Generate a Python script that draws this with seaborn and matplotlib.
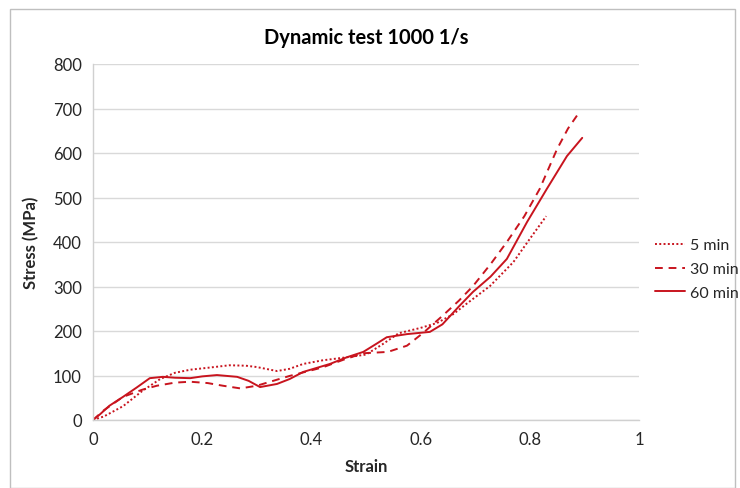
import matplotlib
matplotlib.use("Agg")
import matplotlib.pyplot as plt
import seaborn as sns
import pandas as pd
from matplotlib.patches import Rectangle

# Data
strain_5 = [0.0, 0.02, 0.055, 0.09, 0.123, 0.15, 0.178, 0.215, 0.25, 0.28, 0.30, 0.337, 0.36, 0.385, 0.42, 0.465,
            0.50, 0.53, 0.56, 0.60, 0.63, 0.66, 0.685, 0.727, 0.77, 0.80, 0.83]
stress_5 = [0, 8, 31, 65, 92, 106, 113, 118, 123, 122, 119, 110, 115, 126, 134, 141,
            147, 170, 195, 207, 218, 238, 262, 301, 355, 407, 458]

strain_30 = [0.0, 0.02, 0.055, 0.09, 0.117, 0.15, 0.178, 0.21, 0.238, 0.27, 0.30, 0.33, 0.36, 0.42, 0.46,
             0.495, 0.54, 0.575, 0.605, 0.64, 0.67, 0.696, 0.728, 0.758, 0.79, 0.818, 0.85, 0.87, 0.892]
stress_30 = [0, 22, 52, 68, 77, 84, 86, 83, 77, 71, 77, 88, 99, 118, 136,
             150, 153, 167, 196, 234, 268, 301, 350, 400, 458, 519, 609, 655, 694]

strain_60 = [0.0, 0.013, 0.03, 0.055, 0.08, 0.104, 0.128, 0.15, 0.178, 0.20, 0.227, 0.264, 0.285, 0.306, 0.337,
             0.36, 0.385, 0.434, 0.465, 0.495, 0.52, 0.538, 0.575, 0.617, 0.64, 0.67, 0.696, 0.728, 0.758,
             0.795, 0.831, 0.868, 0.896]
stress_60 = [0, 13, 32, 52, 73, 94, 97, 95, 94, 98, 101, 97, 88, 74, 81,
             92, 108, 126, 141, 153, 172, 186, 193, 198, 215, 255, 288, 322, 362,
             445, 519, 593, 634]

series_names = ["5 min", "30 min", "60 min"]

frames = []
for name, xs, ys in zip(series_names, [strain_5, strain_30, strain_60], [stress_5, stress_30, stress_60]):
    frames.append(pd.DataFrame({"Strain": xs, "Stress": ys, "Series": name}))
df = pd.concat(frames, ignore_index=True)

sns.set_style("white")
plt.rcParams["font.family"] = ["Lato", "DejaVu Sans"]

fig = plt.figure(figsize=(7.4, 4.89), dpi=100)
ax = fig.add_axes([93 / 740, 68 / 489, 546 / 740, 356 / 489])

red = "#C8141E"
sns.lineplot(data=df, x="Strain", y="Stress", hue="Series", style="Series",
             palette={n: red for n in series_names},
             dashes={"5 min": (1, 1.2), "30 min": (4, 3), "60 min": ""},
             linewidth=1.4, sort=False, estimator=None, ax=ax, legend=True)

ax.set_xlim(0, 1)
ax.set_ylim(0, 800)
ax.set_xticks([0, 0.2, 0.4, 0.6, 0.8, 1])
ax.set_xticklabels(["0", "0.2", "0.4", "0.6", "0.8", "1"])
ax.set_yticks(range(0, 801, 100))
ax.yaxis.grid(True, color="#D9D9D9", linewidth=1)
ax.xaxis.grid(False)
for s in ["top", "right"]:
    ax.spines[s].set_visible(False)
for s in ["left", "bottom"]:
    ax.spines[s].set_color("#D0D0D0")
    ax.spines[s].set_linewidth(1)
ax.tick_params(axis="both", labelsize=12, colors="#262626", length=0, pad=8)
ax.set_xlabel("Strain", fontsize=12, fontweight="bold", color="#262626", labelpad=8)
ax.set_ylabel("Stress (MPa)", fontsize=12, fontweight="bold", color="#262626", labelpad=10)
ax.set_title("Dynamic test 1000 1/s", fontsize=14.5, fontweight="bold", color="#000000", pad=15)

handles, labels = ax.get_legend_handles_labels()
ax.get_legend().remove()
fig.legend(handles, labels, loc="center left", bbox_to_anchor=(655 / 740, 1 - 270 / 489),
           frameon=False, fontsize=11.5, handlelength=1.9, handletextpad=0.3,
           labelspacing=0.6, borderaxespad=0, borderpad=0)

fig.patches.append(Rectangle((10 / 740, 0), 725 / 740, 479 / 489, transform=fig.transFigure,
                             fill=False, edgecolor="#BFBFBF", linewidth=1))

fig.savefig("out.png", dpi=100)
